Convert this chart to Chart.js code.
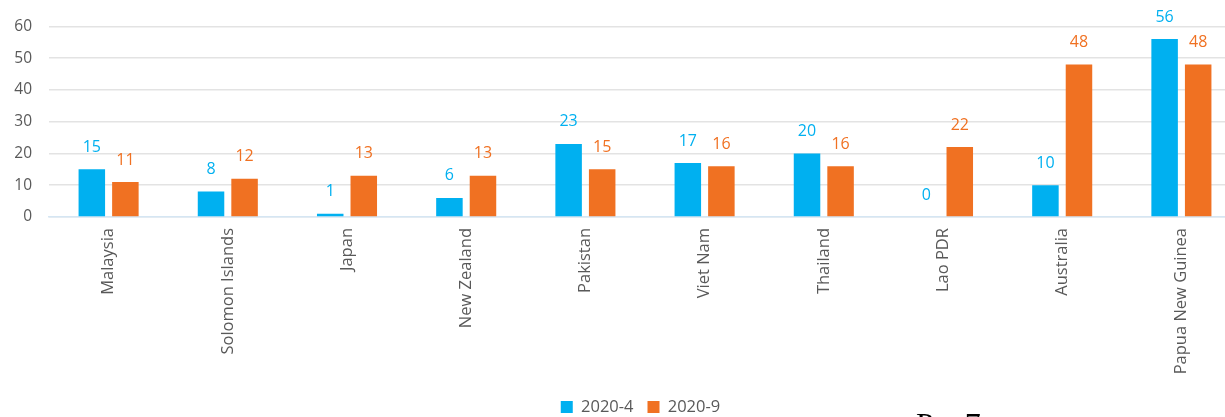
<!DOCTYPE html>
<html>
<head>
<meta charset="utf-8">
<script src="https://cdn.jsdelivr.net/npm/chart.js@4.4.0/dist/chart.umd.min.js"></script>
<style>
  html, body { margin: 0; padding: 0; overflow: hidden; background: #fff; }
  #wrap { position: relative; width: 1241px; height: 417px; }
  #pageNo { position: absolute; left: 916px; top: 406px; font-family: "Liberation Serif", serif; font-size: 32px; word-spacing: 19px; color: #000; }
</style>
</head>
<body>
<div id="wrap">
  <canvas id="chart"></canvas>
  <div id="pageNo">Р. 7</div>
</div>
<script>
const countries = ['Malaysia', 'Solomon Islands', 'Japan', 'New Zealand', 'Pakistan',
  'Viet Nam', 'Thailand', 'Lao PDR', 'Australia', 'Papua New Guinea'];
const april = [15, 8, 1, 6, 23, 17, 20, 0, 10, 56];
const september = [11, 12, 13, 13, 15, 16, 16, 22, 48, 48];
const seriesNames = ['2020-4', '2020-9'];

const BLUE = '#00b0f0';
const ORANGE = '#f07122';
const TEXT = '#595959';
const LEGEND_FONT = 16.5;
const LEGEND_PAD = 14;

// value labels above each bar
const barLabels = {
  id: 'barLabels',
  afterDatasetsDraw(chart) {
    const ctx = chart.ctx;
    ctx.save();
    ctx.font = '16px "Open Sans"';
    ctx.textAlign = 'center';
    ctx.textBaseline = 'middle';
    chart.data.datasets.forEach((ds, i) => {
      ctx.fillStyle = ds.backgroundColor;
      chart.getDatasetMeta(i).data.forEach((bar, j) => {
        ctx.fillText(ds.data[j], bar.x, bar.y - 22);
      });
    });
    ctx.restore();
  }
};

// move the legend to where the original has it
const legendShift = {
  id: 'legendShift',
  afterLayout(chart) {
    const lg = chart.legend;
    const dy = 407 - (lg.top + LEGEND_PAD + LEGEND_FONT / 2);
    lg.top += dy; lg.bottom += dy;
    lg.left += 20; lg.right += 20;
  }
};

new Chart(document.getElementById('chart'), {
  type: 'bar',
  data: {
    labels: countries,
    datasets: [
      { label: seriesNames[0], data: april, backgroundColor: BLUE },
      { label: seriesNames[1], data: september, backgroundColor: ORANGE }
    ]
  },
  options: {
    responsive: true,
    maintainAspectRatio: false,
    animation: false,
    layout: { padding: { top: 24, left: 0, right: 0, bottom: 0 } },
    datasets: { bar: { categoryPercentage: 0.563, barPercentage: 0.79 } },
    scales: {
      x: {
        grid: { display: false, drawTicks: false },
        border: { color: '#d5e6f3', width: 1.5 },
        ticks: {
          minRotation: 90, maxRotation: 90, padding: 11,
          color: TEXT, font: { family: 'Open Sans', size: 16.5 }
        },
        afterFit(scale) { scale.height = 417 - 217 - (LEGEND_FONT + LEGEND_PAD + 10); }
      },
      y: {
        min: 0, max: 60,
        border: { display: false },
        grid: { color: '#e3e3e3', lineWidth: 1.5, drawTicks: false },
        ticks: {
          stepSize: 10, padding: 17,
          color: TEXT, font: { family: 'Open Sans', size: 15.5 }
        },
        afterFit(scale) { scale.width = 49; }
      }
    },
    plugins: {
      tooltip: { enabled: false },
      legend: {
        position: 'bottom',
        labels: {
          boxWidth: 12, boxHeight: 12, padding: LEGEND_PAD,
          color: TEXT, font: { family: 'Open Sans', size: LEGEND_FONT }
        }
      }
    }
  },
  plugins: [barLabels, legendShift]
});
</script>
</body>
</html>
